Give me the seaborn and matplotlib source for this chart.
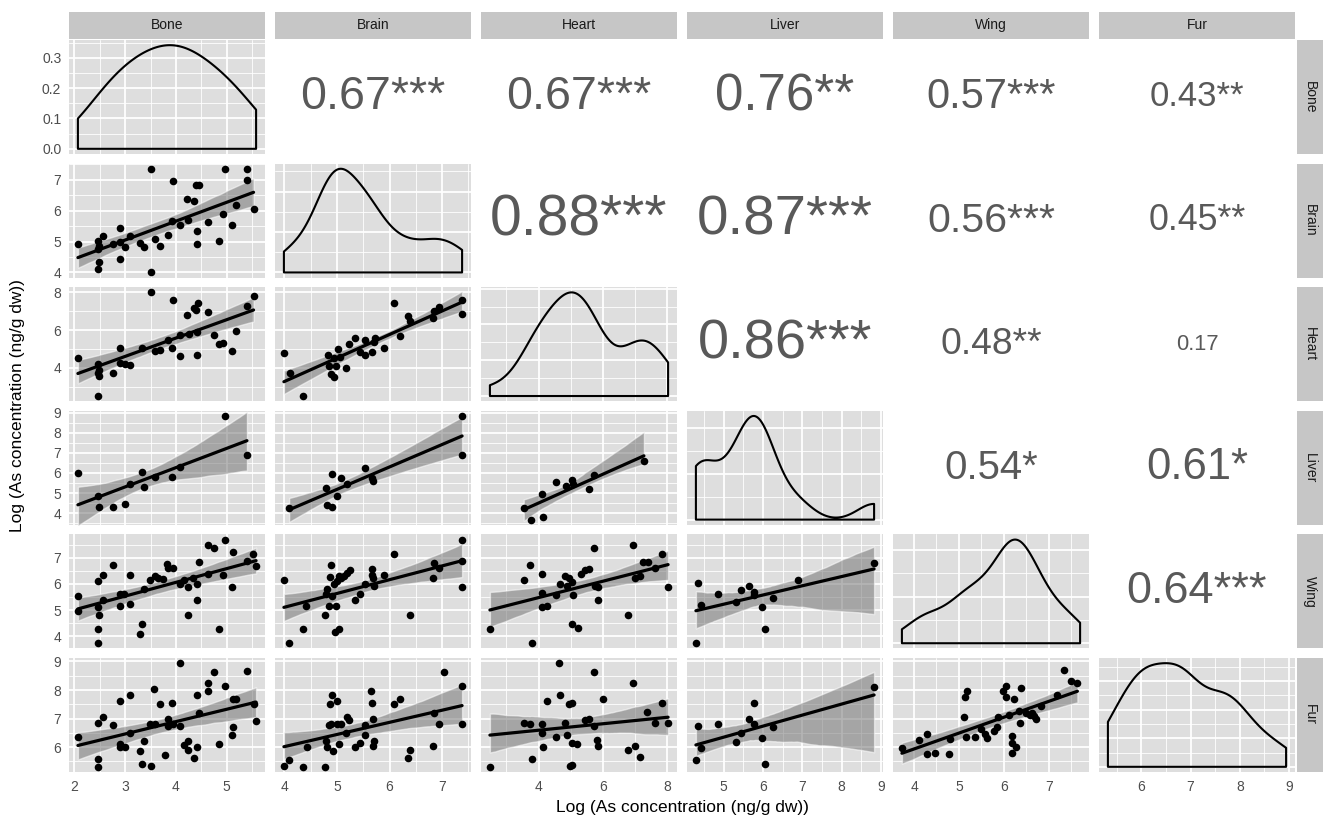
import numpy as np
import matplotlib
matplotlib.use("Agg")
import matplotlib.pyplot as plt
import seaborn as sns
from matplotlib.collections import PolyCollection
from matplotlib.ticker import MultipleLocator, MaxNLocator, AutoMinorLocator, FormatStrFormatter

# variables (order of the matrix)
variables = ["Bone", "Brain", "Heart", "Liver", "Wing", "Fur"]
tick_step = [1, 1, 2, 1, 1, 1]

# lower triangle scatter data
bone_brain_x = [2.07, 2.46, 2.48, 2.47, 2.56, 2.48, 2.46, 2.77, 2.89, 2.89, 2.89, 3.00, 3.10, 3.29, 3.37, 3.50, 3.50, 3.59, 3.69, 3.84,
                3.95, 3.92, 4.08, 4.22, 4.24, 4.35, 4.41, 4.41, 4.39, 4.46, 4.64, 4.84, 4.92, 4.97, 5.10, 5.19, 5.40, 5.40, 5.53]
bone_brain_y = [4.91, 5.02, 4.85, 4.75, 5.18, 4.35, 4.11, 4.91, 5.43, 5.00, 4.42, 4.81, 5.18, 4.96, 4.81, 7.36, 4.00, 5.08, 4.85, 5.22,
                6.95, 5.67, 5.54, 6.38, 5.70, 6.33, 5.34, 4.91, 6.82, 6.84, 5.62, 5.03, 5.88, 7.36, 5.53, 6.19, 7.36, 7.00, 6.07]

bone_heart_x = [2.07, 2.46, 2.48, 2.46, 2.48, 2.46, 2.77, 2.89, 2.89, 3.00, 3.10, 3.33, 3.50, 3.59, 3.69, 3.84, 3.92, 3.95, 4.08, 4.08,
                4.22, 4.25, 4.35, 4.39, 4.44, 4.41, 4.42, 4.64, 4.76, 4.84, 4.92, 5.10, 5.19, 5.40, 5.53]
bone_heart_y = [4.55, 4.18, 3.91, 3.75, 3.58, 2.51, 3.75, 5.08, 4.28, 4.18, 4.14, 5.06, 8.00, 4.88, 4.97, 5.47, 5.08, 7.59, 4.64, 5.73,
                6.80, 5.82, 7.19, 7.06, 7.42, 4.67, 5.88, 6.94, 5.73, 5.24, 5.33, 4.88, 5.98, 7.29, 7.82]

bone_liver_x = [2.07, 2.46, 2.48, 2.77, 2.99, 3.10, 3.33, 3.37, 3.59, 3.92, 4.09, 4.97, 5.40]
bone_liver_y = [5.99, 4.84, 4.29, 4.33, 4.45, 5.47, 6.04, 5.30, 5.78, 5.78, 6.29, 8.83, 6.89]

bone_wing_x = [2.07, 2.07, 2.46, 2.56, 2.46, 2.48, 2.46, 2.46, 2.56, 2.77, 2.89, 2.89, 2.98, 3.10, 3.10, 3.33, 3.29, 3.37, 3.49, 3.59,
               3.65, 3.75, 3.82, 3.84, 3.95, 4.08, 4.16, 4.23, 4.24, 4.34, 4.41, 4.41, 4.45, 4.64, 4.84, 4.64, 4.76, 4.92, 4.97, 5.10,
               5.12, 5.40, 5.52, 5.58]
bone_wing_y = [5.54, 4.97, 6.11, 6.36, 5.12, 4.80, 4.27, 3.73, 5.37, 6.71, 5.16, 5.63, 5.63, 6.36, 5.22, 4.48, 4.10, 5.79, 6.17, 6.30,
               6.24, 6.20, 6.75, 6.62, 6.62, 5.98, 6.17, 4.81, 5.89, 6.24, 6.01, 5.37, 6.85, 6.40, 4.27, 7.51, 7.38, 6.36, 7.70, 5.88,
               7.22, 6.87, 7.15, 6.68]

bone_fur_x = [2.07, 2.46, 2.46, 2.46, 2.56, 2.77, 2.89, 2.89, 2.90, 3.00, 3.10, 3.10, 3.29, 3.33, 3.37, 3.49, 3.50, 3.56, 3.59, 3.69,
              3.78, 3.84, 3.84, 3.92, 3.95, 4.08, 4.08, 4.16, 4.23, 4.24, 4.35, 4.41, 4.41, 4.45, 4.64, 4.64, 4.76, 4.84, 4.97, 5.10,
              5.12, 5.12, 5.19, 5.40, 5.53, 5.58]
bone_fur_y = [6.34, 5.58, 5.32, 6.83, 7.04, 6.78, 7.60, 6.11, 6.02, 5.99, 7.82, 6.51, 5.87, 5.40, 6.20, 6.81, 5.35, 8.03, 6.81, 7.51,
              5.73, 6.98, 6.75, 7.56, 6.81, 8.94, 6.75, 6.07, 6.22, 5.91, 5.61, 6.02, 7.82, 7.21, 8.24, 7.95, 8.64, 6.11, 8.15, 6.42,
              6.72, 7.70, 7.68, 8.65, 7.51, 6.90]

brain_heart_x = [3.99, 4.10, 4.36, 4.83, 4.84, 4.89, 4.94, 4.99, 5.01, 4.94, 5.05, 5.18, 5.22, 5.34, 5.43, 5.53, 5.54, 5.67, 5.70, 5.72,
                 5.89, 6.09, 6.19, 6.35, 6.38, 6.83, 6.84, 6.95, 7.38, 7.38]
brain_heart_y = [4.80, 3.73, 2.51, 4.67, 4.11, 3.70, 3.52, 4.11, 4.99, 4.50, 4.58, 4.02, 5.24, 5.56, 4.85, 5.47, 4.67, 4.85, 5.38, 5.56,
                 5.08, 7.42, 5.70, 6.76, 6.48, 6.65, 7.01, 7.20, 7.59, 6.88]

brain_liver_x = [4.09, 4.80, 4.91, 4.81, 4.91, 5.00, 5.08, 5.19, 5.53, 5.67, 5.68, 7.38, 7.38]
brain_liver_y = [4.24, 5.27, 5.95, 4.41, 4.29, 4.84, 5.73, 5.44, 6.24, 5.73, 5.58, 8.83, 6.89]

brain_wing_x = [3.99, 4.41, 4.36, 4.77, 4.80, 4.81, 4.84, 4.86, 4.89, 4.91, 4.94, 4.96, 4.99, 5.03, 5.00, 5.03, 5.08, 5.13, 5.19, 5.24,
                5.34, 5.43, 5.53, 5.67, 5.67, 5.68, 5.71, 5.89, 6.09, 6.38, 6.84, 6.83, 6.95, 7.38, 7.38, 7.38, 4.09]
brain_wing_y = [6.17, 5.16, 4.27, 4.80, 5.63, 5.82, 5.16, 6.26, 6.71, 5.54, 6.01, 4.17, 5.16, 4.29, 6.11, 6.30, 6.24, 6.30, 6.43, 6.52,
                5.37, 5.60, 5.98, 6.58, 6.36, 6.24, 5.92, 6.36, 7.15, 4.80, 6.81, 6.21, 6.62, 7.70, 6.87, 5.88, 3.73]

brain_fur_x = [3.99, 4.09, 4.36, 4.42, 4.77, 4.80, 4.81, 4.84, 4.86, 4.91, 4.89, 4.93, 5.00, 5.00, 5.03, 5.08, 5.19, 5.22, 5.18, 5.34,
               5.43, 5.53, 5.53, 5.64, 5.67, 5.68, 5.68, 5.71, 6.09, 6.19, 6.35, 6.38, 6.82, 6.84, 6.95, 7.03, 7.38, 7.38]
brain_fur_y = [5.35, 5.56, 5.31, 6.02, 5.32, 6.22, 6.02, 6.77, 7.51, 7.82, 6.81, 5.87, 7.60, 6.81, 6.11, 6.81, 7.04, 6.96, 6.51, 6.02,
               6.14, 6.42, 6.77, 7.95, 7.56, 7.00, 6.05, 6.22, 7.51, 7.68, 5.61, 5.89, 6.05, 7.21, 6.81, 8.64, 8.15, 6.81]

heart_liver_x = [3.54, 3.77, 4.12, 4.14, 4.54, 4.85, 5.05, 5.06, 5.55, 5.72, 7.27]
heart_liver_y = [4.28, 3.68, 4.96, 3.82, 5.56, 5.36, 5.66, 5.44, 5.18, 5.90, 6.60]

heart_wing_x = [2.49, 3.54, 3.74, 3.80, 4.12, 4.12, 4.12, 4.26, 4.54, 4.65, 4.83, 4.88, 4.93, 5.03, 5.06, 5.05, 5.21, 5.31, 5.44, 5.57,
                5.72, 5.75, 5.83, 5.83, 6.78, 6.92, 6.99, 7.14, 7.25, 7.40, 7.61, 7.83, 8.02]
heart_wing_y = [4.27, 6.14, 6.71, 3.73, 6.37, 5.64, 5.12, 5.14, 5.58, 6.01, 6.30, 5.92, 6.24, 6.08, 5.58, 4.46, 4.31, 6.37, 6.52, 6.56,
                7.38, 5.92, 5.88, 5.37, 4.80, 7.51, 6.21, 6.30, 6.85, 6.85, 6.62, 7.15, 5.88]

heart_fur_x = [2.49, 3.54, 3.74, 3.80, 4.12, 4.12, 4.14, 4.26, 4.54, 4.63, 4.65, 4.83, 4.87, 4.93, 5.03, 5.03, 5.05, 4.98, 5.19, 5.44,
               5.57, 5.72, 5.72, 5.80, 5.83, 6.00, 6.78, 6.92, 6.99, 7.16, 7.38, 7.61, 7.83, 8.02]
heart_fur_y = [5.32, 6.86, 6.81, 5.58, 6.81, 6.51, 5.99, 7.60, 6.34, 8.94, 7.82, 6.83, 6.42, 7.51, 7.56, 6.13, 5.37, 5.34, 6.10, 6.96,
               7.00, 8.64, 6.75, 6.25, 6.05, 7.68, 5.90, 8.23, 6.05, 5.64, 7.24, 6.83, 7.53, 6.83]

liver_wing_x = [4.29, 4.35, 4.43, 4.86, 5.31, 5.45, 5.65, 5.78, 5.76, 5.97, 6.04, 6.25, 6.88, 8.83]
liver_wing_y = [3.73, 6.02, 5.19, 5.60, 5.32, 5.77, 5.92, 5.70, 5.58, 5.12, 4.29, 5.45, 6.14, 6.79]

liver_fur_x = [4.29, 4.35, 4.43, 4.86, 5.31, 5.45, 5.65, 5.76, 5.78, 5.97, 6.04, 6.25, 8.83]
liver_fur_y = [5.55, 6.75, 5.96, 6.81, 6.19, 6.51, 6.98, 7.53, 6.81, 6.32, 5.40, 6.72, 8.09]

wing_fur_x = [3.73, 4.12, 4.28, 4.28, 4.46, 4.79, 4.81, 5.12, 5.14, 5.19, 5.15, 5.36, 5.50, 5.58, 5.63, 5.79, 5.84, 5.87, 5.99, 6.05,
              6.06, 6.12, 6.18, 6.18, 6.18, 6.23, 6.27, 6.33, 6.36, 6.38, 6.49, 6.58, 6.63, 6.67, 6.71, 6.83, 7.18, 7.35, 7.49, 7.64]
wing_fur_y = [5.96, 6.25, 6.46, 5.75, 5.81, 5.75, 6.28, 7.06, 7.76, 7.95, 6.37, 6.37, 6.63, 6.46, 6.32, 6.55, 6.71, 7.06, 7.95, 8.15,
              7.74, 7.13, 6.40, 6.13, 5.79, 7.68, 6.02, 7.25, 6.83, 8.07, 7.21, 7.13, 7.19, 7.10, 6.98, 7.45, 7.83, 8.70, 8.32, 8.26]

# upper triangle: correlation and significance
cor_cells = [(0, 1), (0, 2), (0, 3), (0, 4), (0, 5), (1, 2), (1, 3), (1, 4), (1, 5),
             (2, 3), (2, 4), (2, 5), (3, 4), (3, 5), (4, 5)]
cor_values = [0.67, 0.67, 0.76, 0.57, 0.43, 0.88, 0.87, 0.56, 0.45, 0.86, 0.48, 0.17, 0.54, 0.61, 0.64]
cor_stars = ["***", "***", "**", "***", "**", "***", "***", "***", "**", "***", "**", "", "*", "*", "***"]

lower = {
    (1, 0): (bone_brain_x, bone_brain_y),
    (2, 0): (bone_heart_x, bone_heart_y),
    (3, 0): (bone_liver_x, bone_liver_y),
    (4, 0): (bone_wing_x, bone_wing_y),
    (5, 0): (bone_fur_x, bone_fur_y),
    (2, 1): (brain_heart_x, brain_heart_y),
    (3, 1): (brain_liver_x, brain_liver_y),
    (4, 1): (brain_wing_x, brain_wing_y),
    (5, 1): (brain_fur_x, brain_fur_y),
    (3, 2): (heart_liver_x, heart_liver_y),
    (4, 2): (heart_wing_x, heart_wing_y),
    (5, 2): (heart_fur_x, heart_fur_y),
    (4, 3): (liver_wing_x, liver_wing_y),
    (5, 3): (liver_fur_x, liver_fur_y),
    (5, 4): (wing_fur_x, wing_fur_y),
}
# values used for the diagonal densities
diag_data = [bone_fur_x, brain_fur_x, heart_wing_x, liver_wing_x, bone_wing_y, bone_fur_y]
diag_bw = [1.25, 0.8, 0.85, 0.6, 0.8, 0.9]

PANEL = "#DEDEDE"
STRIP = "#C6C6C6"

sns.set_theme(style="darkgrid")
plt.rcParams["font.family"] = ["Liberation Sans", "DejaVu Sans"]

W, H = 1326, 821
fig = plt.figure(figsize=(W / 100, H / 100), dpi=100)


def rect(left, top, w, h):
    return [left / W, 1 - (top + h) / H, w / W, h / H]


def expand(vals):
    lo, hi = min(vals), max(vals)
    pad = 0.05 * (hi - lo)
    return lo - pad, hi + pad


n = len(variables)
col_lim = []
for c in range(n):
    vals = list(diag_data[c])
    for r in range(c + 1, n):
        vals += lower[(r, c)][0]
    col_lim.append(expand(vals))
row_lim = [None]
for r in range(1, n):
    vals = []
    for c in range(r):
        vals += lower[(r, c)][1]
    row_lim.append(expand(vals))

lefts = [69 + 206 * c for c in range(n)]
tops = [40 + 123.6 * r for r in range(n)]
PW, PH = 196, 114


def style_panel(ax, r, c):
    ax.set_facecolor(PANEL)
    for s in ax.spines.values():
        s.set_visible(False)
    ax.set_axisbelow(True)
    ax.grid(True, which="major", color="white", lw=1.3)
    ax.grid(True, which="minor", color="white", lw=0.6)
    ax.xaxis.set_major_locator(MultipleLocator(tick_step[c]))
    ax.xaxis.set_minor_locator(MultipleLocator(tick_step[c] / 2))
    ax.tick_params(which="both", length=0, labelbottom=False, labelleft=False)
    if r == n - 1:
        ax.tick_params(axis="x", which="major", length=3.5, width=0.9, color="#333333",
                       labelbottom=True, labelsize=10, labelcolor="#4D4D4D", pad=2)
    if c == 0:
        ax.tick_params(axis="y", which="major", length=3.5, width=0.9, color="#333333",
                       labelleft=True, labelsize=10, labelcolor="#4D4D4D", pad=2)
    ax.set_xlabel("")
    ax.set_ylabel("")


for r in range(n):
    for c in range(n):
        ax = fig.add_axes(rect(lefts[c], tops[r], PW, PH))
        if r > c:
            x, y = lower[(r, c)]
            sns.regplot(x=np.array(x), y=np.array(y), ax=ax, ci=95, n_boot=1000, seed=3,
                        color="black",
                        scatter_kws={"s": 30, "linewidths": 0, "alpha": 1, "zorder": 3},
                        line_kws={"lw": 2.3, "zorder": 4})
            for coll in ax.collections:
                if isinstance(coll, PolyCollection):
                    coll.set_facecolor("#777777")
                    coll.set_alpha(0.55)
                    coll.set_zorder(2)
            style_panel(ax, r, c)
            ax.yaxis.set_major_locator(MultipleLocator(tick_step[r]))
            ax.yaxis.set_minor_locator(MultipleLocator(tick_step[r] / 2))
            ax.set_xlim(col_lim[c])
            ax.set_ylim(row_lim[r])
        elif r == c:
            sns.kdeplot(x=np.array(diag_data[c]), ax=ax, bw_adjust=diag_bw[c], cut=0, fill=True,
                        color="black", facecolor="none", edgecolor="black", linewidth=1.5)
            ymax = max(p.vertices[:, 1].max() for coll in ax.collections for p in coll.get_paths())
            style_panel(ax, r, c)
            ax.yaxis.set_major_locator(MaxNLocator(nbins=4, steps=[1, 2, 2.5, 5, 10]))
            ax.yaxis.set_minor_locator(AutoMinorLocator(2))
            ax.yaxis.set_major_formatter(FormatStrFormatter("%.1f"))
            ax.set_xlim(col_lim[c])
            ax.set_ylim(-0.05 * ymax, 1.05 * ymax)
        else:
            k = cor_cells.index((r, c))
            ax.axis("off")
            label = f"{cor_values[k]:.2f}{cor_stars[k]}"
            ax.text(0.5, 0.5, label, transform=ax.transAxes, ha="center", va="center",
                    fontsize=9.7 + 35.6 * cor_values[k], color="#595959")

# strips
for c, name in enumerate(variables):
    sax = fig.add_axes(rect(lefts[c], 12, PW, 27))
    sax.set_facecolor(STRIP)
    sax.set_xticks([])
    sax.set_yticks([])
    for s in sax.spines.values():
        s.set_visible(False)
    sax.text(0.5, 0.5, name, transform=sax.transAxes, ha="center", va="center",
             fontsize=10, color="#1A1A1A")
for r, name in enumerate(variables):
    sax = fig.add_axes(rect(1297, tops[r], 26, PH))
    sax.set_facecolor(STRIP)
    sax.set_xticks([])
    sax.set_yticks([])
    for s in sax.spines.values():
        s.set_visible(False)
    sax.text(0.5, 0.5, name, transform=sax.transAxes, ha="center", va="center",
             rotation=-90, fontsize=10, color="#1A1A1A")

fig.text(682 / W, 1 - 807 / H, "Log (As concentration (ng/g dw))", ha="center", va="center",
         fontsize=12.5, color="black")
fig.text(18 / W, 1 - 406 / H, "Log (As concentration (ng/g dw))", ha="center", va="center",
         rotation=90, fontsize=12.5, color="black")

fig.savefig("out.png", dpi=100, facecolor="white")
